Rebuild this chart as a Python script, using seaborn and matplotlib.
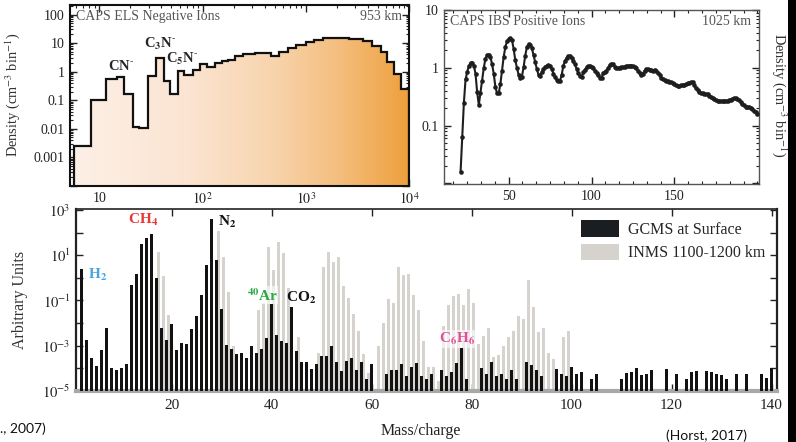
import numpy as np
import pandas as pd
import matplotlib
matplotlib.use("Agg")
import matplotlib.pyplot as plt
import seaborn as sns
from matplotlib.patches import Polygon, Patch, Rectangle
from matplotlib.colors import LinearSegmentedColormap
from matplotlib.ticker import FixedLocator, NullLocator, NullFormatter, MultipleLocator, LogLocator

# ---------------- data ----------------
# CAPS ELS negative ions (953 km): histogram bin edges (m/q) and densities
els_edges = [5.7, 8.3, 11.6, 14.8, 17.5, 21.1, 24.5, 29.6, 35.7, 42.1, 48.9, 57.2, 66.5,
             81.4, 95, 110, 132, 153, 177, 205, 247, 320, 462, 555, 667, 802, 1000,
             1214, 1473, 1790, 2637, 3594, 4365, 5300, 6185, 7223, 8437, 10000]
els_density = [0.0025, 0.10, 0.54, 0.65, 0.16, 0.012, 0.011, 0.70, 3.0, 0.46, 0.17, 1.05,
               0.74, 1.11, 1.8, 1.45, 2.0, 2.4, 2.6, 3.5, 4.3, 4.6, 3.55, 4.9, 6.5, 8.4,
               11, 13.2, 15.2, 15.5, 14.4, 11.9, 7.8, 4.9, 2.2, 0.8, 0.25]

# CAPS IBS positive ions (1025 km): m/q 21..200, log10 density
ibs_mass = list(range(21, 201))
ibs_log10 = [
    -1.80, -1.20, -0.60, -0.20, -0.07, 0.03, 0.09, 0.09, 0.04, -0.10,        # 21-30
    -0.42, -0.64, -0.43, -0.22, 0.00, 0.16, 0.22, 0.23, 0.19, 0.06,          # 31-40
    -0.10, -0.33, -0.44, -0.44, -0.28, -0.05, 0.19, 0.36, 0.46, 0.50,        # 41-50
    0.52, 0.48, 0.33, 0.13, 0.00, -0.12, -0.18, -0.15, 0.01, 0.21,           # 51-60
    0.36, 0.41, 0.40, 0.34, 0.22, 0.10, -0.02, -0.12, -0.14, -0.08,          # 61-70
    -0.02, 0.02, 0.04, 0.05, 0.03, -0.02, -0.10, -0.16, -0.21, -0.23,        # 71-80
    -0.22, -0.12, 0.04, 0.12, 0.17, 0.20, 0.21, 0.17, 0.12, 0.06,            # 81-90
    -0.02, -0.09, -0.14, -0.16, -0.08, -0.03, 0.01, 0.03, 0.04, 0.02,        # 91-100
    0.00, -0.05, -0.09, -0.13, -0.17, -0.17, -0.09, -0.07, -0.05, 0.00,      # 101-110
    0.05, 0.07, 0.07, 0.02, 0.00, 0.00, 0.00, 0.01, 0.01, 0.02,              # 111-120
    0.03, 0.04, 0.04, 0.04, 0.03, 0.01, -0.01, -0.05, -0.09, -0.12,          # 121-130
    -0.10, -0.05, -0.02, -0.02, -0.03, -0.04, -0.05, -0.03, -0.05, -0.09,    # 131-140
    -0.13, -0.17, -0.19, -0.21, -0.22, -0.23, -0.24, -0.25, -0.27, -0.28,    # 141-150
    -0.30, -0.31, -0.31, -0.30, -0.29, -0.29, -0.28, -0.27, -0.26, -0.25,    # 151-160
    -0.24, -0.30, -0.35, -0.38, -0.41, -0.44, -0.44, -0.45, -0.45, -0.46,    # 161-170
    -0.48, -0.50, -0.52, -0.54, -0.55, -0.57, -0.57, -0.58, -0.58, -0.57,    # 171-180
    -0.57, -0.57, -0.56, -0.55, -0.54, -0.53, -0.53, -0.54, -0.56, -0.59,    # 181-190
    -0.62, -0.65, -0.67, -0.67, -0.68, -0.69, -0.71, -0.74, -0.77, -0.80,    # 191-200
]

# Mass spectra (log10 arbitrary units), m/q 2..140; None = no bar
spec_mass = list(range(2, 141))
gcms_log10 = [
    0.38, -2.74, -3.52, -3.89, -3.21, -2.22, -3.97, -4.06, -4.00,            # 2-10
    -3.82, -0.31, 0.19, 1.49, 1.77, 1.93, 0.00, -2.21, -2.74, -2.04,         # 11-20
    -3.18, -2.89, -2.92, -2.27, -1.67, -0.76, 0.56, 2.59, 0.78, -1.36,       # 21-30
    -2.96, -3.14, -3.36, -3.30, -3.52, -3.01, -3.34, -3.13, -2.66, -1.16,    # 31-40
    -2.54, -2.79, -2.87, -1.30, -3.22, -3.70, -3.70, -4.01, -3.81, -3.47,    # 41-50
    -3.47, -2.99, -3.74, -4.11, -3.67, -3.56, -4.07, -3.74, -4.48, -3.81,    # 51-60
    None, None, -4.26, -4.08, -4.08, -3.81, -4.33, -3.93, -3.76, -4.33,      # 61-70
    -4.45, -4.26, None, -4.08, -4.33, -4.17, -3.77, -3.12, -4.48, None,      # 71-80
    None, -3.99, -4.23, -3.73, -4.33, -4.26, -4.48, -4.07, -4.48, None,      # 81-90
    -3.71, -3.86, -4.08, -4.33, None, None, -4.04, -4.26, -4.33, -3.93,      # 91-100
    -4.26, -4.16, None, -4.48, -4.26, None, None, None, None, -4.48,         # 101-110
    -4.21, -4.18, -3.99, -4.29, -4.26, -4.07, None, None, -4.04, None,       # 111-120
    -4.26, None, -4.48, -4.14, -4.11, None, -4.11, -4.18, -4.26, -4.29,      # 121-130
    -4.48, None, -4.26, None, -4.26, None, None, -4.26, -4.41, -4.00,        # 131-140
]
inms_mass = [17, 18, 19, 29, 30, 31, 32, 37, 38, 39, 40, 41, 42, 43, 45, 49, 50, 51, 52,
             53, 54, 55, 56, 57, 58, 59, 61, 62, 63, 64, 65, 66, 67, 68, 69, 70, 71, 72,
             73, 74, 75, 76, 77, 78, 79, 80, 81, 82, 83, 84, 85, 86, 87, 88, 89, 90, 91,
             92, 93, 94, 95, 96, 98, 99]
inms_log10 = [1.12, 0.09, -1.63, 2.08, 0.93, -0.62, -3.03, -1.40, -1.10, 1.36, 0.36, 1.59,
              1.10, -0.47, -2.63, -3.34, 0.47, 1.13, 0.70, 0.93, -0.36, -0.90, -1.59, -2.33,
              -3.37, -4.19, -3.00, -2.01, -0.93, -1.10, 0.48, 0.11, 0.16, -0.75, -1.44, -2.78,
              -3.96, -3.96, -4.56, -2.14, -1.18, -0.82, -0.70, -1.22, -0.48, -1.10, -2.93,
              -2.58, -2.21, -3.50, -3.40, -2.99, -2.60, -2.33, -1.68, -1.83, -0.11, -1.30,
              -2.38, -2.23, -3.30, -3.59, -2.63, -2.33]

x_ticks_spec = [20, 40, 60, 80, 100, 120, 140]

# ---------------- style ----------------
sns.set_theme(style="ticks")
plt.rcParams['font.family'] = ['Liberation Serif', 'DejaVu Serif']
plt.rcParams['mathtext.fontset'] = 'stix'
plt.rcParams['axes.linewidth'] = 1.2

W, H = 796, 442
fig = plt.figure(figsize=(W / 100, H / 100), dpi=100)
fig.patch.set_facecolor('white')


def px_axes(l, t, r, b):
    return fig.add_axes([l / W, 1 - b / H, (r - l) / W, (b - t) / H])


ax1 = px_axes(70, 5, 409, 186)
ax2 = px_axes(444, 10, 759, 184)
ax3 = px_axes(76, 209, 777, 391)

# ---------------- panel 1: ELS negative ions ----------------
ax1.set_xscale('log')
ax1.set_yscale('log')
ax1.set_xlim(5.2, 1e4)
ax1.set_ylim(1e-4, 215)
edges = np.array(els_edges, dtype=float)
vals = np.array(els_density, dtype=float)
xs = np.repeat(edges, 2)[1:-1]
ys = np.repeat(vals, 2)
verts = [(edges[0], 1e-6)] + list(zip(xs, ys)) + [(edges[-1], 1e-6)]
poly = Polygon(verts, closed=True, facecolor='none', edgecolor='none')
ax1.add_patch(poly)
cmap = LinearSegmentedColormap.from_list(
    'peach', [(0, '#fdf0e7'), (0.35, '#fbe4d1'), (0.6, '#f8d4ad'), (0.8, '#f4bd7c'), (1.0, '#eea03c')])
grad = np.linspace(0, 1, 256).reshape(1, -1)
im = ax1.imshow(grad, cmap=cmap, extent=[0, 1, 0, 1], transform=ax1.transAxes,
                aspect='auto', zorder=1, interpolation='bilinear')
im.set_clip_path(poly)
ax1.stairs(vals, edges, baseline=1e-6, color='#111111', lw=1.6, zorder=3)
ax1.set_xlim(5.2, 1e4)
ax1.set_ylim(1e-4, 215)
ax1.xaxis.set_major_locator(FixedLocator([10, 100, 1000, 10000]))
ax1.set_xticklabels(['10', r'$10^2$', r'$10^3$', r'$10^4$'])
ax1.xaxis.set_minor_locator(LogLocator(base=10, subs=np.arange(2, 10)))
ax1.xaxis.set_minor_formatter(NullFormatter())
ax1.yaxis.set_major_locator(FixedLocator([1e-4, 1e-3, 1e-2, 1e-1, 1, 10, 100]))
ax1.set_yticklabels(['', '0.001', '0.01', '0.1', '1', '10', '100'])
ax1.yaxis.set_minor_locator(LogLocator(base=10, subs=np.arange(2, 10)))
ax1.yaxis.set_minor_formatter(NullFormatter())
ax1.text(0.018, 0.935, 'CAPS ELS Negative Ions', transform=ax1.transAxes, fontsize=10,
         color='#555555', va='center', ha='left')
ax1.text(0.98, 0.935, '953 km', transform=ax1.transAxes, fontsize=10,
         color='#555555', va='center', ha='right')
ax1.text(16.4, 1.6, r'CN$^{\mathbf{\text{-}}}$', fontsize=10.5, fontweight='bold', ha='center', va='center')
ax1.text(38.6, 9.6, r'C$_{\mathbf{3}}$N$^{\mathbf{\text{-}}}$', fontsize=10.5, fontweight='bold', ha='center', va='center')
ax1.text(63.7, 2.85, r'C$_{\mathbf{5}}$N$^{\mathbf{\text{-}}}$', fontsize=10.5, fontweight='bold', ha='center', va='center')
for s in ax1.spines.values():
    s.set_color('#111111')
    s.set_linewidth(1.5)

# ---------------- panel 2: IBS positive ions ----------------
ibs_df = pd.DataFrame({'mass': ibs_mass, 'density': 10 ** np.array(ibs_log10)})
ax2.set_yscale('log')
sns.lineplot(data=ibs_df, x='mass', y='density', ax=ax2, color='#1e1e1e', lw=1.5,
             marker='o', markersize=3.3, markeredgewidth=0, zorder=3)
ax2.set_xlim(11, 201)
ax2.set_ylim(0.0098, 10)
ax2.set_xlabel('')
ax2.set_ylabel('')
ax2.xaxis.set_major_locator(FixedLocator([50, 100, 150]))
ax2.xaxis.set_minor_locator(MultipleLocator(50 / 6))
ax2.yaxis.set_major_locator(FixedLocator([0.01, 0.1, 1, 10]))
ax2.set_yticklabels(['', '0.1', '1', '10'])
ax2.yaxis.set_minor_locator(LogLocator(base=10, subs=np.arange(2, 10)))
ax2.yaxis.set_minor_formatter(NullFormatter())
ax2.text(0.02, 0.935, 'CAPS IBS Positive Ions', transform=ax2.transAxes, fontsize=10,
         color='#555555', va='center', ha='left')
ax2.text(0.975, 0.935, '1025 km', transform=ax2.transAxes, fontsize=10,
         color='#555555', va='center', ha='right')
for s in ax2.spines.values():
    s.set_color('#555555')
    s.set_linewidth(1.0)

# ---------------- panel 3: mass spectra ----------------
gcms_df = pd.DataFrame({'mass': spec_mass,
                        'value': [np.nan if v is None else 10 ** v for v in gcms_log10]}).dropna()
inms_df = pd.DataFrame({'mass': np.array(inms_mass) + 0.3,
                        'value': 10 ** np.array(inms_log10)})
ax3.set_yscale('log')
sns.barplot(data=inms_df, x='mass', y='value', native_scale=True, width=0.6,
            color='#d6d3cf', saturation=1, errorbar=None, ax=ax3, linewidth=0, zorder=2)
sns.barplot(data=gcms_df, x='mass', y='value', native_scale=True, width=0.6,
            color='#121212', saturation=1, errorbar=None, ax=ax3, linewidth=0, zorder=3)
ax3.set_xlim(0.86, 141.1)
ax3.set_ylim(1e-5, 1.1e3)
ax3.set_xlabel('')
ax3.set_ylabel('')
ax3.xaxis.set_major_locator(FixedLocator(x_ticks_spec))
ax3.set_xticklabels([str(t) for t in x_ticks_spec])
ax3.xaxis.set_minor_locator(NullLocator())
ax3.yaxis.set_major_locator(FixedLocator([10.0 ** k for k in range(-5, 4)]))
ax3.set_yticklabels([(r'$10^{%d}$' % k if k % 2 else '') for k in range(-5, 4)])
ax3.yaxis.set_minor_locator(NullLocator())
for s in ax3.spines.values():
    s.set_color('#222222')
    s.set_linewidth(1.2)
ax3.spines['left'].set_linewidth(1.6)
ax3.spines['right'].set_linewidth(1.6)
ax3.spines['bottom'].set_color('#a8a8a8')
ax3.spines['bottom'].set_linewidth(3)

ax3.text(3.3, 1.3, r'H$_{\mathbf{2}}$', color='#4aa3df', fontsize=11, fontweight='bold', ha='left', va='center')
ax3.text(14.3, 360, r'CH$_{\mathbf{4}}$', color='#e53935', fontsize=11, fontweight='bold', ha='center', va='center')
ax3.text(29.3, 290, r'N$_{\mathbf{2}}$', color='#111111', fontsize=11, fontweight='bold', ha='left', va='center')
ax3.text(38.1, 0.17, r'$^{\mathbf{40}}$Ar', color='#2aa845', fontsize=11, fontweight='bold', ha='center',
         va='center', bbox=dict(facecolor='white', alpha=0.6, edgecolor='none', pad=0.5), zorder=5)
ax3.text(45.8, 0.135, r'CO$_{\mathbf{2}}$', color='#111111', fontsize=11, fontweight='bold', ha='center', va='center')
ax3.text(77.1, 0.002, r'C$_{\mathbf{6}}$H$_{\mathbf{6}}$', color='#e0509a', fontsize=11, fontweight='bold',
         ha='center', va='center', bbox=dict(facecolor='white', alpha=0.6, edgecolor='none', pad=0.5), zorder=5)

leg = ax3.legend(handles=[Patch(facecolor='#1b1e21', edgecolor='none'),
                          Patch(facecolor='#d6d3cf', edgecolor='none')],
                 labels=['GCMS at Surface', 'INMS 1100-1200 km'], loc='upper right',
                 bbox_to_anchor=(1.0, 1.0), frameon=False, fontsize=11.5, handlelength=2.4,
                 handleheight=1.25, handletextpad=0.6, labelspacing=0.35, borderaxespad=0.3)

for ax in (ax1, ax2, ax3):
    ax.tick_params(which='both', direction='in', top=True, right=True, colors='#222222',
                   labelcolor='#222222')
    ax.tick_params(which='major', length=5, width=1.0)
    ax.tick_params(which='minor', length=2.5, width=0.8)
ax1.tick_params(labelsize=10, pad=4)
ax2.tick_params(labelsize=10, pad=4)
ax3.tick_params(axis='x', labelsize=11, pad=6)
ax3.tick_params(axis='y', labelsize=10.5, pad=4)

# ---------------- figure text ----------------
fig.text(13 / W, 1 - 95 / H, r'Density (cm$^{-3}$ bin$^{-1}$)', rotation=90, ha='center', va='center',
         fontsize=10.4, color='#333333')
fig.text(779 / W, 1 - 95 / H, r'Density (cm$^{-3}$ bin$^{-1}$)', rotation=270, ha='center', va='center',
         fontsize=10.4, color='#333333')
fig.text(20 / W, 1 - 300 / H, 'Arbitrary Units', rotation=90, ha='center', va='center',
         fontsize=11.5, color='#333333')
fig.text(421 / W, 1 - 431 / H, 'Mass/charge', ha='center', va='center', fontsize=11.5, color='#222222')
fig.text(0 / W, 1 - 429 / H, '., 2007)', ha='left', va='center', fontsize=10,
         family=['Lato', 'DejaVu Sans'], color='#111111')
fig.text(707 / W, 1 - 436 / H, '(Horst, 2017)', ha='center', va='center', fontsize=10,
         family=['Lato', 'DejaVu Sans'], color='#111111')
fig.patches.append(Rectangle((788 / W, 0), 8 / W, 1, transform=fig.transFigure,
                             facecolor='black', edgecolor='none'))

fig.savefig('out.png', dpi=100)
